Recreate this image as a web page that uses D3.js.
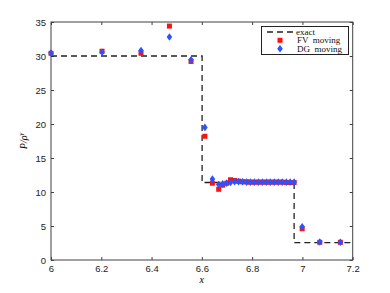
<!DOCTYPE html>
<html>
<head>
<meta charset="utf-8">
<script src="https://cdn.jsdelivr.net/npm/d3@7"></script>
<style>
  body { margin: 0; background: #fff; }
  svg { display: block; }
</style>
</head>
<body>
<div id="chart"></div>
<script>
// exact solution (step profile)
var exactX = [6.0, 6.601, 6.601, 6.967, 6.967, 7.2];
var exactY = [30, 30, 11.4, 11.4, 2.55, 2.55];

// cell centres of the moving mesh
var cellX = [6.0, 6.203, 6.358, 6.471, 6.557, 6.612, 6.642, 6.667, 6.683, 6.699,
  6.714, 6.730, 6.746, 6.762, 6.778, 6.793, 6.809, 6.825, 6.841, 6.857,
  6.872, 6.888, 6.904, 6.920, 6.936, 6.951, 6.967, 6.999, 7.069, 7.151];

var fvY = [30.4, 30.7, 30.4, 34.4, 29.2, 18.2, 11.3, 10.4, 11.0, 11.3,
  11.8, 11.7, 11.6, 11.5, 11.5, 11.45, 11.45, 11.45, 11.45, 11.45,
  11.45, 11.45, 11.45, 11.45, 11.4, 11.4, 11.4, 4.6, 2.6, 2.6];

var dgY = [30.45, 30.55, 30.8, 32.8, 29.45, 19.5, 11.9, 11.1, 11.2, 11.3,
  11.4, 11.5, 11.5, 11.5, 11.45, 11.45, 11.45, 11.45, 11.45, 11.45,
  11.45, 11.45, 11.45, 11.45, 11.45, 11.45, 11.45, 4.9, 2.65, 2.6];

var xTicks = [6, 6.2, 6.4, 6.6, 6.8, 7, 7.2];
var yTicks = [0, 5, 10, 15, 20, 25, 30, 35];

var W = 390, H = 293;
var margin = {left: 51, right: 37.3, top: 22, bottom: 33};

var svg = d3.select("#chart")
  .append("svg")
    .attr("width", W)
    .attr("height", H);

var x = d3.scaleLinear().domain([6, 7.2]).range([margin.left, W - margin.right]);
var y = d3.scaleLinear().domain([0, 35]).range([H - margin.bottom, margin.top]);

var frameColor = "#404040";
var tickFont = "'Liberation Sans', Arial, sans-serif";
var serif = "'Liberation Serif', 'Times New Roman', serif";

// axes (ticks point inward, box on all four sides)
function styleAxis(g) {
  g.select(".domain").remove();
  g.selectAll(".tick line").attr("stroke", frameColor);
  g.selectAll(".tick text")
    .attr("font-family", tickFont)
    .attr("font-size", "9.5px")
    .attr("fill", "#222");
}

svg.append("g")
  .attr("transform", "translate(0," + y(0) + ")")
  .call(d3.axisBottom(x).tickValues(xTicks).tickSize(-3).tickPadding(5)
    .tickFormat(function(d) { return d3.format("")(+d.toFixed(1)); }))
  .call(styleAxis);

svg.append("g")
  .attr("transform", "translate(0," + y(35) + ")")
  .call(d3.axisTop(x).tickValues(xTicks).tickSize(-3).tickFormat(""))
  .call(styleAxis);

svg.append("g")
  .attr("transform", "translate(" + x(6) + ",0)")
  .call(d3.axisLeft(y).tickValues(yTicks).tickSize(-3).tickPadding(5))
  .call(styleAxis);

svg.append("g")
  .attr("transform", "translate(" + x(7.2) + ",0)")
  .call(d3.axisRight(y).tickValues(yTicks).tickSize(-3).tickFormat(""))
  .call(styleAxis);

svg.append("rect")
  .attr("x", x(6))
  .attr("y", y(35))
  .attr("width", x(7.2) - x(6))
  .attr("height", y(0) - y(35))
  .attr("fill", "none")
  .attr("stroke", frameColor)
  .attr("stroke-width", 1);

// exact solution
var line = d3.line()
  .x(function(d) { return x(d[0]); })
  .y(function(d) { return y(d[1]); });

svg.append("path")
  .datum(d3.zip(exactX, exactY))
  .attr("d", line)
  .attr("fill", "none")
  .attr("stroke", "#222")
  .attr("stroke-width", 1.3)
  .attr("stroke-dasharray", "6,4");

var diamond = "M0,-3.8L2.8,0L0,3.8L-2.8,0Z";
var red = "#ff1010", blue = "#2a52ff";

// FV markers
svg.append("g").selectAll("rect")
  .data(d3.zip(cellX, fvY))
  .enter()
  .append("rect")
    .attr("x", function(d) { return x(d[0]) - 2.5; })
    .attr("y", function(d) { return y(d[1]) - 2.5; })
    .attr("width", 5)
    .attr("height", 5)
    .attr("fill", red);

// DG markers
svg.append("g").selectAll("path")
  .data(d3.zip(cellX, dgY))
  .enter()
  .append("path")
    .attr("d", diamond)
    .attr("transform", function(d) { return "translate(" + x(d[0]) + "," + y(d[1]) + ")"; })
    .attr("fill", blue);

// legend
var legend = svg.append("g");
legend.append("rect")
  .attr("x", 261.5).attr("y", 26.5)
  .attr("width", 87).attr("height", 28)
  .attr("fill", "#fff")
  .attr("stroke", "#222")
  .attr("stroke-width", 1);

legend.append("line")
  .attr("x1", 267).attr("x2", 295)
  .attr("y1", 32).attr("y2", 32)
  .attr("stroke", "#222")
  .attr("stroke-width", 1.3)
  .attr("stroke-dasharray", "6,4");
legend.append("rect")
  .attr("x", 277.5).attr("y", 37.8)
  .attr("width", 5).attr("height", 5)
  .attr("fill", red);
legend.append("path")
  .attr("d", diamond)
  .attr("transform", "translate(280,48.8)")
  .attr("fill", blue);

var labels = ["exact", "FV  moving", "DG  moving"];
legend.selectAll("text")
  .data(labels)
  .enter()
  .append("text")
    .attr("x", function(d, i) { return i === 0 ? 296 : 297; })
    .attr("y", function(d, i) { return 34.5 + i * 8.6; })
    .attr("font-family", serif)
    .attr("font-size", "9px")
    .attr("fill", "#111")
    .style("white-space", "pre")
    .text(function(d) { return d; });

// axis labels
svg.append("text")
  .attr("x", x(6.6))
  .attr("y", 283)
  .attr("text-anchor", "middle")
  .attr("font-family", serif)
  .attr("font-style", "italic")
  .attr("font-size", "10px")
  .text("x");

var yl = svg.append("text")
  .attr("transform", "translate(27," + y(17.5) + ") rotate(-90)")
  .attr("text-anchor", "middle")
  .attr("font-family", serif)
  .attr("font-style", "italic")
  .attr("font-size", "10px");
yl.append("tspan").text("P/ρ");
yl.append("tspan").attr("dy", -4).attr("font-size", "7px").text("γ");
</script>
</body>
</html>
